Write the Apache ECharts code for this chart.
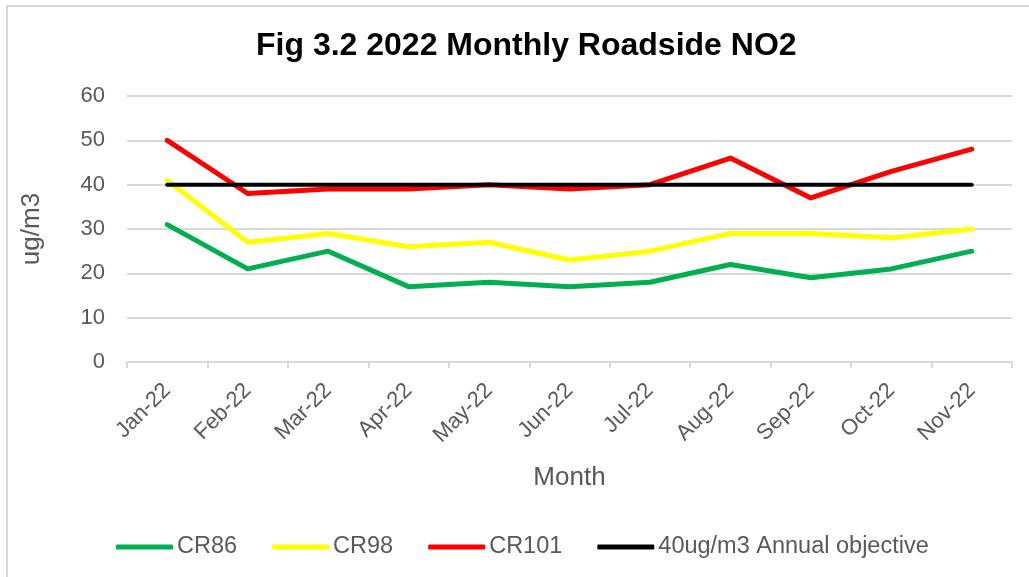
<!DOCTYPE html>
<html>
<head>
<meta charset="utf-8">
<script src="https://cdn.jsdelivr.net/npm/echarts@6/dist/echarts.min.js"></script>
<style>
  html, body { margin: 0; padding: 0; background: #fff; overflow: hidden; }
  #chart { position: absolute; left: 0; top: 0; width: 1029px; height: 577px; }
  /* chart frame, its right and bottom edges fall outside the picture */
  #frame { position: absolute; left: 6px; top: 5px; width: 1040px; height: 590px;
           border-left: 2px solid #d9d9d9; border-top: 2px solid #d9d9d9; pointer-events: none; }
</style>
</head>
<body>
<div id="chart"></div>
<div id="frame"></div>
<script>
// monthly roadside NO2
const months = ['Jan-22', 'Feb-22', 'Mar-22', 'Apr-22', 'May-22', 'Jun-22', 'Jul-22', 'Aug-22', 'Sep-22', 'Oct-22', 'Nov-22']
const cr86 = [31, 21, 25, 17, 18, 17, 18, 22, 19, 21, 25]
const cr98 = [41, 27, 29, 26, 27, 23, 25, 29, 29, 28, 30]
const cr101 = [50, 38, 39, 39, 40, 39, 40, 46, 37, 43, 48]
const objective = [40, 40, 40, 40, 40, 40, 40, 40, 40, 40, 40]

const chart = echarts.init(document.getElementById('chart'))

function lineSeries(name, data, color, width) {
  return {
    name: name,
    type: 'line',
    data: data,
    symbol: 'none',
    color: color,
    lineStyle: { color: color, width: width, cap: 'round', join: 'round' }
  }
}

chart.setOption({
  animation: false,
  textStyle: { fontFamily: 'Liberation Sans, Arial, sans-serif' },
  title: {
    text: 'Fig 3.2 2022 Monthly Roadside NO2',
    left: 251,
    top: 25,
    textStyle: { fontSize: 32, fontWeight: 'bold', color: '#000' }
  },
  legend: {
    top: 530,
    left: 111,
    itemWidth: 57,
    itemHeight: 5,
    itemGap: 35,
    icon: 'roundRect',
    textStyle: { fontSize: 23.5, color: '#595959', padding: [0, 0, 0, -1] },
    data: ['CR86', 'CR98', 'CR101', '40ug/m3 Annual objective']
  },
  grid: { left: 127, right: 17, top: 96, bottom: 215 },
  xAxis: {
    type: 'category',
    data: months,
    boundaryGap: true,
    name: 'Month',
    nameLocation: 'middle',
    nameGap: 103,
    nameTextStyle: { fontSize: 26, color: '#595959' },
    axisLine: { lineStyle: { color: '#d9d9d9', width: 2 } },
    axisTick: { show: true, length: 6, lineStyle: { color: '#d9d9d9', width: 2 } },
    axisLabel: { rotate: 45, fontSize: 22, color: '#595959', margin: 25 }
  },
  yAxis: {
    type: 'value',
    min: 0,
    max: 60,
    interval: 10,
    name: 'ug/m3',
    nameLocation: 'middle',
    nameGap: 82,
    nameRotate: 90,
    nameTextStyle: { fontSize: 26, color: '#595959' },
    axisLabel: { fontSize: 22, color: '#595959', margin: 22 },
    splitLine: { lineStyle: { color: '#d9d9d9', width: 2 } }
  },
  series: [
    lineSeries('CR86', cr86, '#00b050', 5),
    lineSeries('CR98', cr98, '#ffff00', 5),
    lineSeries('CR101', cr101, '#ff0000', 5),
    lineSeries('40ug/m3 Annual objective', objective, '#000000', 4)
  ]
})
</script>
</body>
</html>
